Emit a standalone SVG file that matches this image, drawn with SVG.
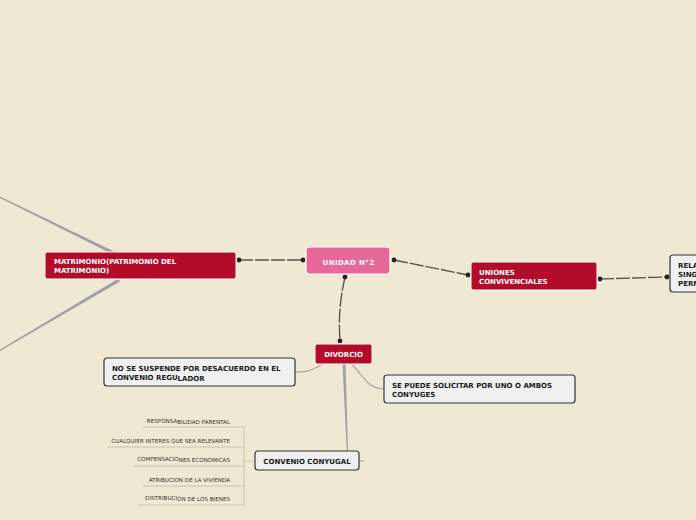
<svg xmlns="http://www.w3.org/2000/svg" width="696" height="520" viewBox="0 0 696 520">
<style>
.bg{fill:#efe8d2}
.main{fill:#b30b2a;stroke:#ffffff;stroke-width:1}
.root{fill:#e8689a;stroke:#ffffff;stroke-width:1.2}
.box{fill:#f0f0f0;stroke:#333333;stroke-width:1.2}
.tw{font-family:"DejaVu Sans",Verdana,sans-serif;font-weight:bold;fill:#ffffff;font-size:7px}
.tb{font-family:"DejaVu Sans",Verdana,sans-serif;font-weight:bold;fill:#1a1a1a;font-size:7px}
.leaf{font-family:"DejaVu Sans",Verdana,sans-serif;fill:#333333;font-size:5.6px;text-anchor:end}
.dash{fill:none;stroke:#5a5650;stroke-width:1.4;stroke-dasharray:14 2}
.dot{fill:#222222}
.gray{fill:none;stroke:#a8a8a8;stroke-width:1.2}
.gfill{fill:#a0a0a4}
.leafline{fill:none;stroke:#c8c4b4;stroke-width:1}
</style>
<rect class="bg" x="0" y="0" width="696" height="520"/>
<g id="connectors">
  <path class="gfill" d="M0,196.5 L0,198 L118,257 L119.5,254 Z"/>
  <path class="gfill" d="M0,349.5 L0,351 L120,281.5 L118.5,278.5 Z"/>
  <path class="dash" d="M239,260 L303,260"/>
  <circle class="dot" cx="239" cy="260" r="2.4"/>
  <circle class="dot" cx="303" cy="260" r="2.4"/>
  <path class="dash" d="M394,260 L468,275"/>
  <circle class="dot" cx="394" cy="260" r="2.4"/>
  <circle class="dot" cx="468" cy="275" r="2.4"/>
  <path class="dash" d="M600,279 L633,278 L667,277"/>
  <circle class="dot" cx="600" cy="279" r="2.4"/>
  <circle class="dot" cx="667" cy="277" r="2.4"/>
  <path class="dash" d="M345,277 C341,295 338,315 340,341" stroke-dasharray="30 2"/>
  <circle class="dot" cx="345" cy="277" r="2.4"/>
  <circle class="dot" cx="340" cy="341" r="2.4"/>
  <path class="gray" d="M323,364 C315,368 312,372 295,372"/>
  <path class="gray" d="M352,364 C365,380 370,389 384,389"/>
  <path class="gfill" d="M342.5,364 L345.5,364 L348,451 L346.8,451 Z"/>
  <path class="gray" d="M359,461 L364,461"/>
  <path class="leafline" d="M255,461 L244,461 M244,427 L244,505 M143,427 L244,427 M107,447 L244,447 M133,466 L244,466 M143,486 L244,486 M138,505 L244,505"/>
</g>
<g id="unidad">
  <rect class="root" x="306" y="247" width="84" height="27" rx="3"/>
  <text class="tw" x="348.5" y="264.5" text-anchor="middle" font-size="10" letter-spacing="0.4">UNIDAD N°2</text>
</g>
<g id="matrimonio">
  <rect class="main" x="45" y="252" width="191" height="27" rx="2"/>
  <text class="tw" x="54" y="264">MATRIMONIO(PATRIMONIO DEL</text>
  <text class="tw" x="54" y="273">MATRIMONIO)</text>
</g>
<g id="uniones">
  <rect class="main" x="471" y="262" width="126" height="28" rx="2"/>
  <text class="tw" x="479" y="275">UNIONES</text>
  <text class="tw" x="479" y="284">CONVIVENCIALES</text>
</g>
<g id="rela">
  <rect class="box" x="670" y="255" width="40" height="37" rx="3"/>
  <text class="tb" x="678" y="268">RELA</text>
  <text class="tb" x="678" y="277">SING</text>
  <text class="tb" x="678" y="286">PERM</text>
</g>
<g id="divorcio">
  <rect class="main" x="315" y="344" width="57" height="20" rx="2"/>
  <text class="tw" x="343.5" y="357" text-anchor="middle">DIVORCIO</text>
</g>
<g id="nosuspende">
  <rect class="box" x="104" y="358" width="191" height="28" rx="3"/>
  <text class="tb" x="112" y="371">NO SE SUSPENDE POR DESACUERDO EN EL</text>
  <text class="tb" x="112" y="379.5">CONVENIO REGU<tspan dy="1.5">LADOR</tspan></text>
</g>
<g id="sepuede">
  <rect class="box" x="384" y="375" width="191" height="28" rx="3"/>
  <text class="tb" x="392" y="388">SE PUEDE SOLICITAR POR UNO O AMBOS</text>
  <text class="tb" x="392" y="396.5">CONYUGES</text>
</g>
<g id="convenio">
  <rect class="box" x="255" y="451" width="104" height="19" rx="3"/>
  <text class="tb" x="307" y="463.5" text-anchor="middle">CONVENIO CONYUGAL</text>
</g>
<g id="leaves">
  <text class="leaf" x="230" y="423.5"><tspan dy="-0.8">RESPONSA</tspan><tspan dy="0.8">BILIDAD PARENTAL</tspan></text>
  <text class="leaf" x="230" y="442.5">CUALQUIER INTERES QUE SEA RELEVANTE</text>
  <text class="leaf" x="230" y="462"><tspan dy="-0.8">COMPENSACIO</tspan><tspan dy="0.8">NES ECONOMICAS</tspan></text>
  <text class="leaf" x="230" y="481.5">ATRIBUCION DE LA VIVIENDA</text>
  <text class="leaf" x="230" y="501"><tspan dy="-0.8">DISTRIBUCI</tspan><tspan dy="0.8">ÓN DE LOS BIENES</tspan></text>
</g>
</svg>
